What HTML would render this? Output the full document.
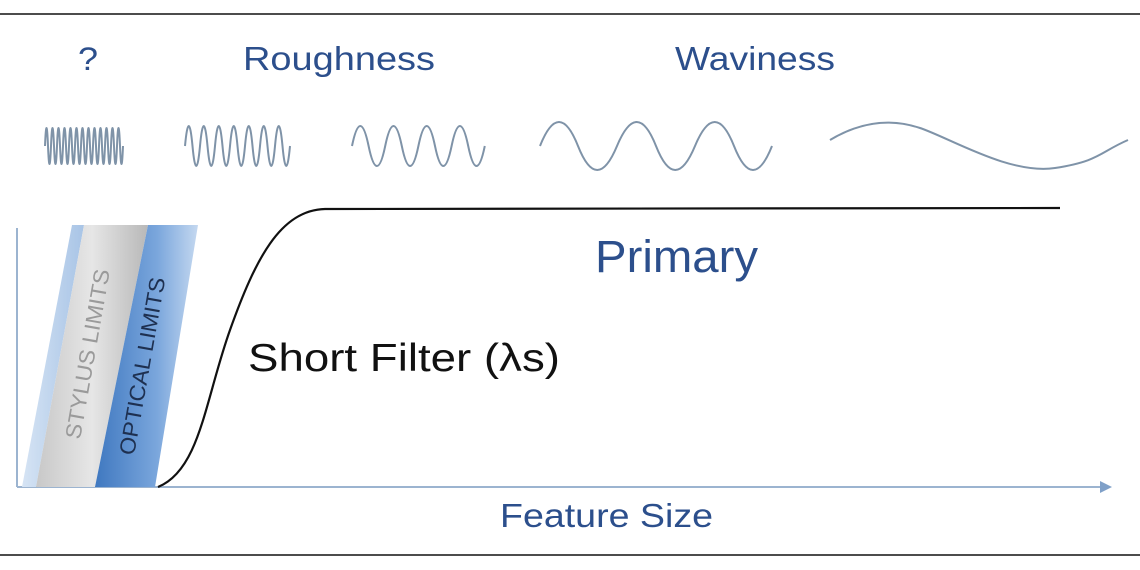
<!DOCTYPE html>
<html><head><meta charset="utf-8"><style>
html,body{margin:0;padding:0;background:#fff;width:1140px;height:570px;overflow:hidden}
svg{display:block}
</style></head><body>
<svg width="1140" height="570" viewBox="0 0 1140 570" xmlns="http://www.w3.org/2000/svg">
<defs>
<linearGradient id="gray" x1="0" y1="0" x2="1" y2="0">
<stop offset="0" stop-color="#c8c8c8"/><stop offset="0.5" stop-color="#e6e6e6"/><stop offset="1" stop-color="#b8b8b8"/>
</linearGradient>
<linearGradient id="blue" x1="0" y1="0" x2="1" y2="0">
<stop offset="0" stop-color="#3f78c0"/><stop offset="0.6" stop-color="#7aa6dc"/><stop offset="1" stop-color="#c4d8f0"/>
</linearGradient>
<linearGradient id="lblue" x1="0" y1="0" x2="1" y2="0">
<stop offset="0" stop-color="#d6e4f4"/><stop offset="1" stop-color="#a8c4e6"/>
</linearGradient>
</defs>
<line x1="0" y1="14" x2="1140" y2="14" stroke="#111" stroke-width="1.5"/>
<line x1="0" y1="555" x2="1140" y2="555" stroke="#111" stroke-width="1.5"/>
<g font-family="Liberation Sans, sans-serif" fill="#2c4f8c">
<text x="78" y="70" font-size="32" textLength="20" lengthAdjust="spacingAndGlyphs">?</text>
<text x="243" y="70" font-size="33" textLength="192" lengthAdjust="spacingAndGlyphs">Roughness</text>
<text x="675" y="70" font-size="33" textLength="160" lengthAdjust="spacingAndGlyphs">Waviness</text>
<text x="595" y="272" font-size="45" textLength="163" lengthAdjust="spacingAndGlyphs">Primary</text>
<text x="500" y="527" font-size="33" textLength="213" lengthAdjust="spacingAndGlyphs">Feature Size</text>
</g>
<g fill="none" stroke="#7f93a8" stroke-width="2">
<path d="M45 146 Q46.5 110 48 146 T51 146 T54 146 T57 146 T60 146 T63 146 T66 146 T69 146 T72 146 T75 146 T78 146 T81 146 T84 146 T87 146 T90 146 T93 146 T96 146 T99 146 T102 146 T105 146 T108 146 T111 146 T114 146 T117 146 T120 146 T123 146"/>
<path d="M185 146 Q188.75 106 192.5 146 T200 146 T207.5 146 T215 146 T222.5 146 T230 146 T237.5 146 T245 146 T252.5 146 T260 146 T267.5 146 T275 146 T282.5 146 T290 146"/>
<path d="M352 146 Q360.3 106 368.6 146 T385.2 146 T401.8 146 T418.4 146 T435 146 T451.6 146 T468.2 146 T484.8 146"/>
<path d="M540 146 Q559 98 578 146 T617 146 T656 146 T695 146 T734 146 T772 146"/>
<path d="M830 140 C860 122 890 118 920 128 S1010 175 1055 168 S1100 152 1128 140"/>
</g>
<line x1="17" y1="228" x2="17" y2="487" stroke="#9cb4d0" stroke-width="2"/>
<line x1="17" y1="487" x2="1104" y2="487" stroke="#9cb4d0" stroke-width="2"/>
<path d="M1112 487 L1100 481 L1100 493 Z" fill="#7fa0c8"/>
<polygon points="22,487 36,487 84,225 72,225" fill="url(#lblue)"/>
<polygon points="36,487 95,487 148,225 84,225" fill="url(#gray)"/>
<polygon points="95,487 155,487 198,225 148,225" fill="url(#blue)"/>
<text transform="translate(80,440) rotate(-80)" font-family="Liberation Sans, sans-serif" font-size="22" fill="#9a9a9a" textLength="172" lengthAdjust="spacingAndGlyphs">STYLUS LIMITS</text>
<text transform="translate(134,456) rotate(-80)" font-family="Liberation Sans, sans-serif" font-size="22" fill="#1e3050" textLength="180" lengthAdjust="spacingAndGlyphs">OPTICAL LIMITS</text>
<path d="M158 487 C200 470 205 400 230 330 C255 260 280 210 325 209 L1060 208" fill="none" stroke="#111" stroke-width="2.2"/>
<text x="248" y="371" font-family="Liberation Sans, sans-serif" font-size="39" fill="#111" textLength="312" lengthAdjust="spacingAndGlyphs">Short Filter (λs)</text>
</svg>
</body></html>
